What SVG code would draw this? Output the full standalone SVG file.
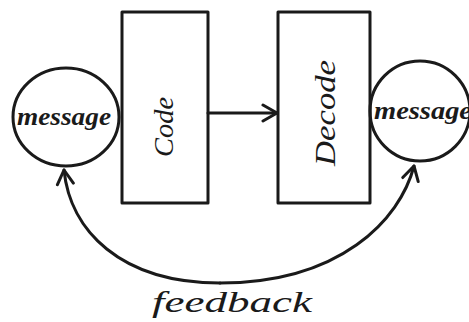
<svg xmlns="http://www.w3.org/2000/svg" width="469" height="322" viewBox="0 0 469 322">
<style>
.s{fill:none;stroke:#1a1a1a;stroke-width:3;stroke-linecap:round;stroke-linejoin:round}
.t{font-family:"Liberation Serif",serif;font-style:italic;fill:#1a1a1a;text-anchor:middle}
</style>
<defs>
<marker id="ah" viewBox="0 0 20 20" refX="16" refY="10" markerWidth="20" markerHeight="20" markerUnits="userSpaceOnUse" orient="auto">
<path d="M2,2 L16,10 L2,18" fill="none" stroke="#1a1a1a" stroke-width="3" stroke-linecap="round" stroke-linejoin="round"/>
</marker>
</defs>
<rect width="469" height="322" fill="#fff"/>
<g id="message-left">
<ellipse class="s" cx="66" cy="117" rx="53" ry="49"/>
<text class="t" x="64" y="125" font-size="26" font-weight="bold" textLength="94" lengthAdjust="spacingAndGlyphs">message</text>
</g>
<g id="code">
<rect class="s" x="122" y="12" width="86" height="191"/>
<text class="t" font-size="28" transform="translate(173,127) rotate(-90)" textLength="60" lengthAdjust="spacingAndGlyphs">Code</text>
</g>
<g id="decode">
<rect class="s" x="278" y="12" width="92" height="191"/>
<text class="t" font-size="30" transform="translate(335,113) rotate(-90)" textLength="106" lengthAdjust="spacingAndGlyphs">Decode</text>
</g>
<g id="message-right">
<circle class="s" cx="420" cy="111" r="50"/>
<text x="374" y="119" font-family="Liberation Serif, serif" font-style="italic" font-weight="bold" font-size="26" fill="#1a1a1a" textLength="98" lengthAdjust="spacingAndGlyphs">message</text>
</g>
<g id="connectors">
<path class="s" d="M208,113 L277,113" marker-end="url(#ah)"/>
<path class="s" d="M220,283 C120,283 70,230 64,170" marker-end="url(#ah)"/>
<path class="s" d="M220,283 C340,283 400,220 414,166" marker-end="url(#ah)"/>
<text class="t" x="232" y="312" font-size="30" textLength="160" lengthAdjust="spacingAndGlyphs">feedback</text>
</g>
</svg>
